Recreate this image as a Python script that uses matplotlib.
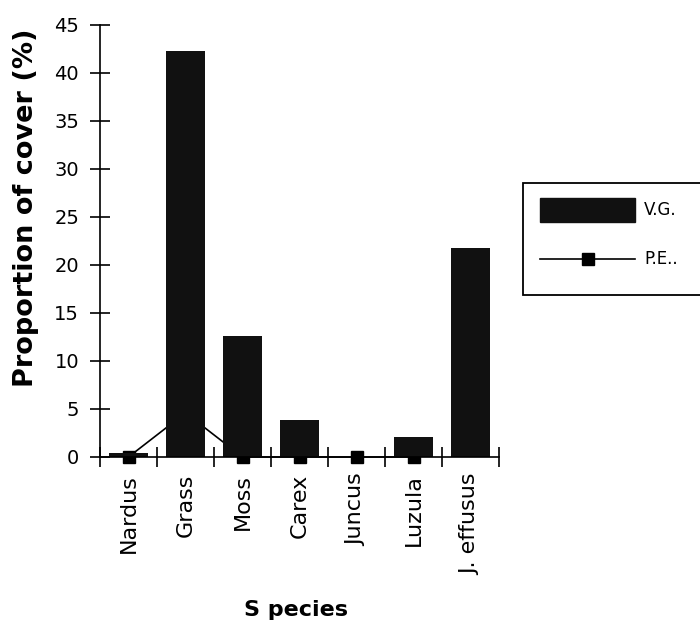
import matplotlib
matplotlib.use("Agg")
import matplotlib.pyplot as plt
import numpy as np
from matplotlib.lines import Line2D
from matplotlib.patches import Rectangle

species = ["Nardus", "Grass", "Moss", "Carex", "Juncus", "Luzula", "J. effusus"]
vg = [0.4, 42.3, 12.6, 3.9, 0.0, 2.1, 21.8]
pe = [0.0, 4.6, 0.0, 0.0, 0.0, 0.0, np.nan]
yticks = [0, 5, 10, 15, 20, 25, 30, 35, 40, 45]
series_names = ["V.G.", "P.E.."]

plt.rcParams['font.family'] = ['DejaVu Sans']

W, H = 700, 628
fig = plt.figure(figsize=(7, 6.28), dpi=100)
ax = fig.add_axes([100 / W, 1 - 457 / H, 399 / W, 432 / H])

x = np.arange(len(species))
ax.plot(x, pe, color='black', lw=1.2, marker='s', ms=8.5, zorder=1, clip_on=False)
ax.bar(x, vg, width=0.67, color='#111111', zorder=2)

ax.set_xlim(-0.5, len(species) - 0.5)
ax.set_ylim(0, 45)
ax.set_yticks(yticks)
ax.set_yticklabels([str(t) for t in yticks], fontsize=14)
ax.set_xticks(x)
ax.set_xticklabels(species, rotation=90, fontsize=16)
ax.tick_params(axis='x', length=0, pad=12)
ax.set_xticks(np.arange(-0.5, len(species), 1.0), minor=True)
ax.tick_params(axis='x', which='minor', direction='inout', length=14, width=1.2)
ax.tick_params(axis='y', direction='inout', length=14, width=1.2, pad=8)

for s in ['top', 'right']:
    ax.spines[s].set_visible(False)
for s in ['left', 'bottom']:
    ax.spines[s].set_linewidth(1.2)
    ax.spines[s].set_zorder(3)

ax.set_ylabel("Proportion of cover (%)", fontsize=19.5, fontweight='bold')
ax.yaxis.set_label_coords((39 - 100) / 399, (457 - 208) / 432)
ax.set_xlabel("S pecies", fontsize=16, fontweight='bold')
ax.xaxis.set_label_coords((296 - 100) / 399, (457 - 600) / 432)

# legend box, drawn by hand to match the reference (clipped at the right edge)
def fx(px):
    return px / W

def fy(py):
    return 1 - py / H

fig.add_artist(Rectangle((fx(523), fy(295)), fx(720) - fx(523), fy(183) - fy(295),
                         transform=fig.transFigure, facecolor='white',
                         edgecolor='black', lw=1.3, clip_on=False))
fig.add_artist(Rectangle((fx(540), fy(222)), fx(635) - fx(540), fy(198) - fy(222),
                         transform=fig.transFigure, facecolor='#111111',
                         edgecolor='#111111'))
fig.add_artist(Line2D([fx(540), fx(635)], [fy(259), fy(259)], transform=fig.transFigure,
                      color='black', lw=1.2))
fig.add_artist(Line2D([fx(587.5)], [fy(259)], transform=fig.transFigure,
                      color='black', marker='s', ms=8.5))
fig.text(fx(644), fy(210), series_names[0], fontsize=12, va='center', ha='left')
fig.text(fx(644), fy(259), series_names[1], fontsize=12, va='center', ha='left')

fig.savefig("out.png", dpi=100, facecolor='white')
